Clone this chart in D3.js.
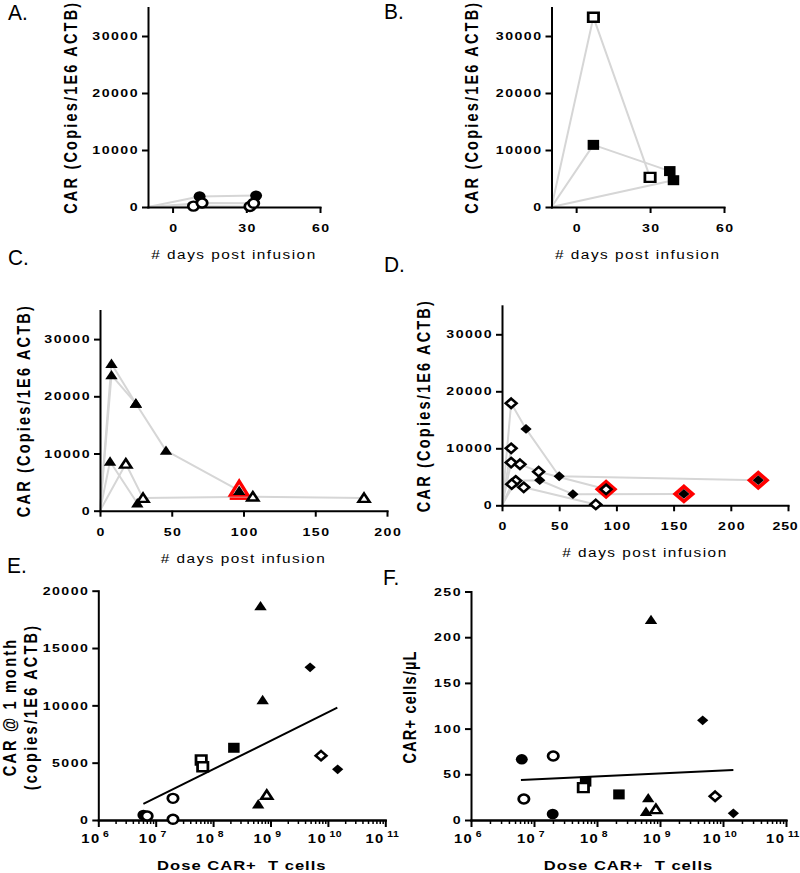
<!DOCTYPE html>
<html><head><meta charset="utf-8">
<script src="https://cdn.jsdelivr.net/npm/d3@7"></script>
<style>
body{margin:0;background:#fff}
text{font-family:"Liberation Sans",Arial,sans-serif}
</style>
</head><body>
<svg id="chart" width="800" height="873"></svg>
<script>
// ---------------- DATA ----------------
// Time-course panels: CAR copies / 1E6 ACTB by day post infusion.
// "open" = 1 for open symbols, 0 for filled symbols.
const startDayAB = -10;   // line origin (pre-infusion) for panels A, B
const startDayCD = 0;     // line origin for panels C, D

const seriesA = [
  {days:[11, 34],   car:[1850, 2000], open:[0,0]},
  {days:[8.5, 31.5],car:[150, 100],   open:[1,1]},
  {days:[12, 33],   car:[700, 650],   open:[1,1]}
];
const seriesB = [
  {days:[7, 30],  car:[33300, 5200], open:[1,1]},
  {days:[7, 38],  car:[10900, 6300], open:[0,0]},
  {days:[39.5],   car:[4700],        open:[0]}
];
const seriesC = [
  {days:[8, 25, 46, 97],       car:[23700, 18750, 10500, 3500], open:[0,0,0,0]},
  {days:[8, 25],               car:[25700, 18750],              open:[0,0]},
  {days:[7, 26],               car:[8600, 1300],                open:[0,0]},
  {days:[18, 30, 106.5, 184],  car:[8200, 2200, 2450, 2200],    open:[1,1,1,1]}
];
const seriesD = [
  {days:[8, 21, 50, 224],   car:[17900, 13400, 5100, 4400], open:[1,0,0,0]},
  {days:[8, 15.7, 32, 91],  car:[7500, 7200, 5900, 2800],   open:[1,1,1,1]},
  {days:[12, 33, 62, 159],  car:[4300, 4400, 1950, 2000],   open:[1,0,0,0]},
  {days:[8.5, 19, 82],      car:[3700, 3150, 150],          open:[1,1,1]},
  {days:[8],                car:[10000],                    open:[1]}
];
// red-highlighted time points
const highlightDaysC = [97];
const highlightCarC  = [3500];
const highlightDaysD = [91, 159, 224];
const highlightCarD  = [2800, 2000, 4400];

const timeXTicksAB = [0, 30, 60];
const timeXTicksC  = [0, 50, 100, 150, 200];
const timeXTicksD  = [0, 50, 100, 150, 200, 250];
const carYTicks    = [0, 10000, 20000, 30000];

// Dose panels
const doseE  = [6.1e6, 7.1e6, 2.0e7, 2.0e7, 6.2e7, 6.6e7, 2.3e8, 6.7e8, 7.3e8, 6.1e8, 8.6e8, 4.9e9, 7.6e9, 1.48e10];
const carE   = [440, 350, 1890, 60, 5230, 4650, 6300, 18660, 10470, 1370, 2180, 13320, 5610, 4420];
const shapeE = ["circle","circle","circle","circle","square","square","square","triangle","triangle","triangle","triangle","diamond","diamond","diamond"];
const openE  = [0,1,1,1,1,1,0,0,0,0,1,0,1,0];
const fitDoseE = [6.1e6, 1.46e10];
const fitCarE  = [1400, 9800];
const yTicksE  = [0, 5000, 10000, 15000, 20000];

const doseF  = [6.4e6, 6.9e6, 2.02e7, 1.98e7, 6.6e7, 6.07e7, 2.23e8, 7.2e8, 6.5e8, 6.0e8, 8.6e8, 4.76e9, 7.5e9, 1.46e10];
const cellsF = [66.4, 23, 70, 6.6, 42, 35.4, 28, 219, 24, 9, 11.7, 109, 26, 7.3];
const shapeF = ["circle","circle","circle","circle","square","square","square","triangle","triangle","triangle","triangle","diamond","diamond","diamond"];
const openF  = [0,1,1,0,0,1,0,0,0,0,1,0,1,0];
const fitDoseF  = [6.2e6, 1.46e10];
const fitCellsF = [43.8, 54.7];
const yTicksF   = [0, 50, 100, 150, 200, 250];
const doseExponents = [6, 7, 8, 9, 10, 11];

// ---------------- DRAWING ----------------
const svg = d3.select("#chart");
const SX = 1.23;   // horizontal stretch of the original figure's lettering
const MX = 1.15;   // horizontal stretch of markers
const GREY = "#d6d6d6";

function sText(g, x, y, str, o = {}) {
  const size = o.size || 13, weight = o.weight || "bold", anchor = o.anchor || "middle";
  const tr = o.rotate ? `translate(${x},${y}) rotate(-90) scale(1,${SX})`
                      : `translate(${x},${y}) scale(${o.sx || SX},1)`;
  return g.append("text").attr("transform", tr).attr("text-anchor", anchor)
    .attr("font-size", size).attr("font-weight", weight).attr("fill", "#000")
    .style("letter-spacing", (o.spacing || 0) + "px").style("white-space", "pre").text(str);
}

function shapePath(shape, open) {
  const p = d3.path();
  if (shape === "circle") { const r = open ? 4.5 : 5.2; p.arc(0, 0, r, 0, 2 * Math.PI); }
  else if (shape === "square") { const h = open ? 4.5 : 5; p.rect(-h, -h, 2 * h, 2 * h); }
  else if (shape === "triangle") {
    const w = open ? 4.8 : 5.4, h = open ? 8.4 : 9.4;
    p.moveTo(0, -h * 0.55); p.lineTo(w, h * 0.45); p.lineTo(-w, h * 0.45); p.closePath();
  } else if (shape === "diamond") {
    const d = open ? 4.7 : 4.9;
    p.moveTo(0, -d); p.lineTo(d, 0); p.lineTo(0, d); p.lineTo(-d, 0); p.closePath();
  }
  return p.toString();
}
function marker(g, cx, cy, shape, open) {
  g.append("path").attr("d", shapePath(shape, open))
    .attr("transform", `translate(${cx},${cy}) scale(${MX},1)`)
    .attr("fill", open ? "#fff" : "#000")
    .attr("stroke", open ? "#000" : "none").attr("stroke-width", open ? 2.4 : 0);
}

function styleAxis(ga, isY, pad) {
  ga.attr("font-family", null).attr("font-size", null);
  ga.select(".domain").attr("stroke", "#000").attr("stroke-width", 2).attr("stroke-linecap", "square");
  ga.selectAll(".tick line").attr("stroke", "#000").attr("stroke-width", 2);
  const t = ga.selectAll(".tick text").attr("font-size", 11.5).attr("font-weight", "bold").attr("fill", "#000")
    .style("letter-spacing", "1.2px");
  if (isY) t.attr("x", -pad / SX).attr("transform", `scale(${SX},1)`);
  else t.attr("transform", `scale(${SX},1)`).attr("dx", "0.6px");
}

function timePanel(cfg) {
  const g = svg.append("g");
  const x = d3.scaleLinear().domain(cfg.xDomain).range(cfg.xRange);
  const y = d3.scaleLinear().domain([0, 35000]).range(cfg.yRange);
  const line = d3.line().x(d => x(d[0])).y(d => y(d[1]));
  cfg.series.forEach(s => {
    const pts = [[cfg.start, 0]].concat(s.days.map((d, i) => [d, s.car[i]]));
    g.append("path").attr("d", line(pts)).attr("fill", "none")
      .attr("stroke", GREY).attr("stroke-width", 2).attr("stroke-linejoin", "round");
  });
  const gy = g.append("g").attr("transform", `translate(${cfg.xRange[0]},0)`)
    .call(d3.axisLeft(y).tickValues(carYTicks).tickSize(6).tickSizeOuter(0).tickFormat(d3.format("d")));
  styleAxis(gy, true, 9);
  const gx = g.append("g").attr("transform", `translate(0,${cfg.yRange[0]})`)
    .call(d3.axisBottom(x).tickValues(cfg.xTicks).tickSize(6).tickSizeOuter(0).tickPadding(11));
  styleAxis(gx, false);
  // keep the last tick label inside the page edge
  gx.selectAll(".tick text").filter(d => x(d) + 12 > 798).attr("dx", "-2.5px").style("letter-spacing", "0.6px");
  // red highlights
  (cfg.hlDays || []).forEach((d, i) => {
    const cx = x(d), cy = y(cfg.hlCar[i]);
    if (cfg.shape === "triangle") {
      g.append("path").attr("transform", `translate(${cx},${cy}) scale(${MX},1)`)
        .attr("d", "M0,-9.5L7.6,4.5L-7.6,4.5Z").attr("fill", "#fff").attr("stroke", "#f00").attr("stroke-width", 3);
      g.append("line").attr("x1", cx - 9.5).attr("x2", cx + 9.5).attr("y1", cy + 8).attr("y2", cy + 8)
        .attr("stroke", "#f00").attr("stroke-width", 2.5);
    } else {
      g.append("path").attr("transform", `translate(${cx},${cy}) scale(${MX},1)`)
        .attr("d", "M0,-7.5L7.5,0L0,7.5L-7.5,0Z").attr("fill", "#fff").attr("stroke", "#f00").attr("stroke-width", 3.5);
    }
  });
  cfg.series.forEach(s => s.days.forEach((d, i) => marker(g, x(d), y(s.car[i]), cfg.shape, s.open[i])));
  // titles
  sText(g, cfg.yTitleX, (cfg.yRange[0] + cfg.yRange[1]) / 2, "CAR (Copies/1E6 ACTB)",
        {rotate: true, size: 14.5, spacing: 2.2});
  sText(g, (cfg.xRange[0] + cfg.xRange[1]) / 2, cfg.yRange[0] + 52, "# days post infusion",
        {size: 12.5, weight: "normal", spacing: 1.2});
}

function dosePanel(cfg) {
  const g = svg.append("g");
  const x = d3.scaleLog().domain([1e6, 1e11]).range(cfg.xRange);
  const y = d3.scaleLinear().domain([0, cfg.yMax]).range([820, cfg.yTop]);
  const gy = g.append("g").attr("transform", `translate(${cfg.xRange[0]},0)`)
    .call(d3.axisLeft(y).tickValues(cfg.yTicks).tickSize(6).tickSizeOuter(0).tickFormat(d3.format("d")));
  styleAxis(gy, true, 9);
  const majors = doseExponents.map(e => Math.pow(10, e));
  const minors = [];
  doseExponents.slice(0, -1).forEach(e => d3.range(2, 10).forEach(k => minors.push(k * Math.pow(10, e))));
  const gxm = g.append("g").attr("transform", "translate(0,820)")
    .call(d3.axisBottom(x).tickValues(minors).tickSize(4).tickSizeOuter(0).tickFormat(""));
  styleAxis(gxm, false);
  gxm.selectAll(".tick line").attr("stroke-width", 1.5);
  const gx = g.append("g").attr("transform", "translate(0,820)")
    .call(d3.axisBottom(x).tickValues(majors).tickSize(7).tickSizeOuter(0).tickFormat(""));
  styleAxis(gx, false);
  majors.forEach((v, i) => {
    const t = sText(g, x(v) - 3, 843, "", {size: 12, spacing: 1.2});
    t.append("tspan").text("10");
    t.append("tspan").attr("dx", 2).attr("dy", -6).attr("font-size", 8.5).style("letter-spacing", "0.4px")
      .text(doseExponents[i]);
  });
  // regression line
  g.append("path").attr("d", d3.line().x(d => x(d[0])).y(d => y(d[1]))(cfg.fitX.map((v, i) => [v, cfg.fitY[i]])))
    .attr("stroke", "#000").attr("stroke-width", 2).attr("fill", "none");
  // markers: filled first, open on top
  const idx = d3.range(cfg.dose.length);
  idx.filter(i => !cfg.open[i]).concat(idx.filter(i => cfg.open[i]))
    .forEach(i => marker(g, x(cfg.dose[i]), y(cfg.val[i]), cfg.shape[i], cfg.open[i]));
  sText(g, (cfg.xRange[0] + cfg.xRange[1]) / 2, 870, "Dose CAR+  T cells", {size: 13.5, spacing: 0.8});
  cfg.yTitles.forEach((tt, k) => sText(g, cfg.yTitleX[k], 707, tt,
        {rotate: true, size: 14.5, spacing: cfg.yTitleSpacing}));
}

timePanel({series: seriesA, start: startDayAB, shape: "circle", xDomain: [-10, 60], xRange: [148, 320],
  yRange: [207, 7.5], xTicks: timeXTicksAB, yTitleX: 77});
timePanel({series: seriesB, start: startDayAB, shape: "square", xDomain: [-10, 60], xRange: [551.5, 724],
  yRange: [207, 7.5], xTicks: timeXTicksAB, yTitleX: 478});
timePanel({series: seriesC, start: startDayCD, shape: "triangle", xDomain: [0, 200], xRange: [100, 387],
  yRange: [510.7, 310.5], xTicks: timeXTicksC, yTitleX: 30, hlDays: highlightDaysC, hlCar: highlightCarC});
timePanel({series: seriesD, start: startDayCD, shape: "diamond", xDomain: [0, 250], xRange: [502, 788],
  yRange: [505.3, 305.8], xTicks: timeXTicksD, yTitleX: 430, hlDays: highlightDaysD, hlCar: highlightCarD});

dosePanel({dose: doseE, val: carE, shape: shapeE, open: openE, fitX: fitDoseE, fitY: fitCarE,
  xRange: [98.3, 385.3], yMax: 20000, yTop: 590.7, yTicks: yTicksE,
  yTitles: ["CAR @ 1 month", "(copies/1E6 ACTB)"], yTitleX: [16, 37], yTitleSpacing: 2.2});
dosePanel({dose: doseF, val: cellsF, shape: shapeF, open: openF, fitX: fitDoseF, fitY: fitCellsF,
  xRange: [471, 786], yMax: 250, yTop: 591.5, yTicks: yTicksF,
  yTitles: ["CAR+ cells/\u00b5L"], yTitleX: [416], yTitleSpacing: 1.2});

// panel letters
[["A.", 8, 20], ["B.", 384, 19], ["C.", 8, 265], ["D.", 384, 272], ["E.", 7, 573], ["F.", 383, 585]]
  .forEach(([s, x, y]) => sText(svg, x, y, s, {size: 22, weight: "normal", anchor: "start", sx: 0.95}));
</script>
</body></html>
